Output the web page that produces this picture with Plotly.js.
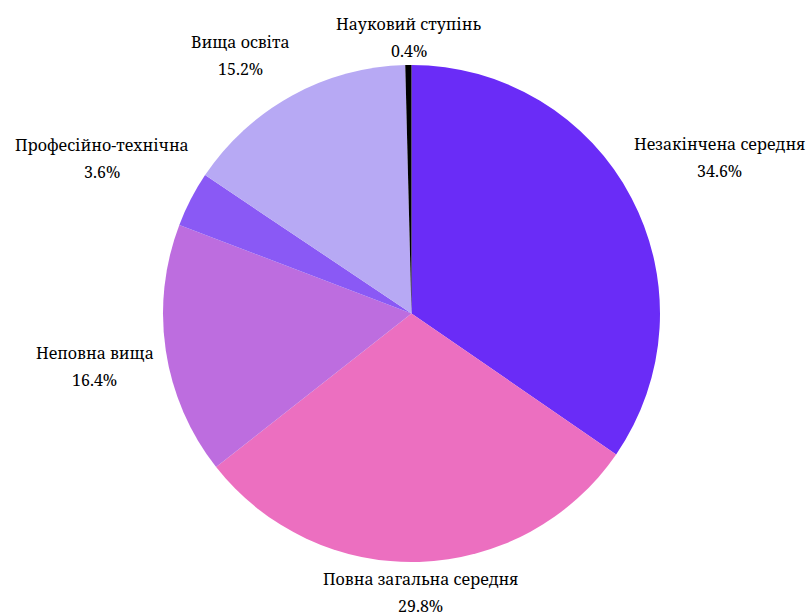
<!DOCTYPE html>
<html>
<head>
<meta charset="utf-8">
<script src="https://cdn.plot.ly/plotly-3.0.1.min.js"></script>
<style>html,body{margin:0;padding:0;background:#fff;}#chart{width:807px;height:613px;}</style>
</head>
<body>
<div id="chart"></div>
<script>
const labels = ["Незакінчена середня", "Повна загальна середня", "Неповна вища", "Професійно-технічна", "Вища освіта", "Науковий ступінь"];
const values = [34.6, 29.8, 16.4, 3.6, 15.2, 0.4];
const colors = ["#6a2cf7", "#ec6fc0", "#bd6ddf", "#8a59f5", "#b7a9f4", "#000000"];

const FONT = "Noto Serif";
const FONT_SIZE = 16;
const LINE_GAP = 27;
const W = 807, H = 613;
const M = {l: 16, r: 0, t: 65, b: 51};
const plotW = W - M.l - M.r, plotH = H - M.t - M.b;
const R = Math.min(plotW, plotH) / 2;

const ctx = document.createElement("canvas").getContext("2d");
ctx.font = FONT_SIZE + "px '" + FONT + "'";

// Outside labels as annotations, placed from each slice's mid-angle
const total = values.reduce((a, b) => a + b, 0);
let cum = 0;
const annotations = [];
values.forEach((v, i) => {
  const mid = (cum + v / 2) / total; cum += v;
  const ang = mid * 2 * Math.PI;            // clockwise from 12 o'clock
  const s = Math.sin(ang), c = Math.cos(ang);
  const pct = (v / total * 100).toFixed(1) + "%";
  const w = Math.max(ctx.measureText(labels[i]).width, ctx.measureText(pct).width);
  const side = Math.abs(s) > 0.3 ? Math.sign(s) : 0;
  let y1, edge = 2;
  if (c > 0.3) y1 = side ? -54 : -41;
  else if (c < -0.3) y1 = 17;
  else { y1 = 2; edge = 12; }
  const xshift = side ? side * (w / 2 + edge) : 1;
  const base = {
    xref: "paper", yref: "paper",
    x: 0.5 + R * s / plotW, y: 0.5 + R * c / plotH,
    xanchor: "center", yanchor: "middle", xshift: xshift,
    showarrow: false, align: "center",
    font: {family: FONT, size: FONT_SIZE, color: "#000"}
  };
  annotations.push(Object.assign({}, base, {text: labels[i], yshift: -y1}));
  annotations.push(Object.assign({}, base, {text: pct, yshift: -(y1 + LINE_GAP)}));
});

Plotly.newPlot("chart", [{
  type: "pie",
  labels: labels,
  values: values,
  sort: false,
  direction: "clockwise",
  rotation: 0,
  textinfo: "none",
  hoverinfo: "label+percent",
  marker: {colors: colors, line: {width: 0}},
  showlegend: false
}], {
  width: W, height: H,
  margin: M,
  paper_bgcolor: "#fff",
  font: {family: FONT, size: FONT_SIZE, color: "#000"},
  annotations: annotations
}, {displayModeBar: false});
</script>
</body>
</html>
